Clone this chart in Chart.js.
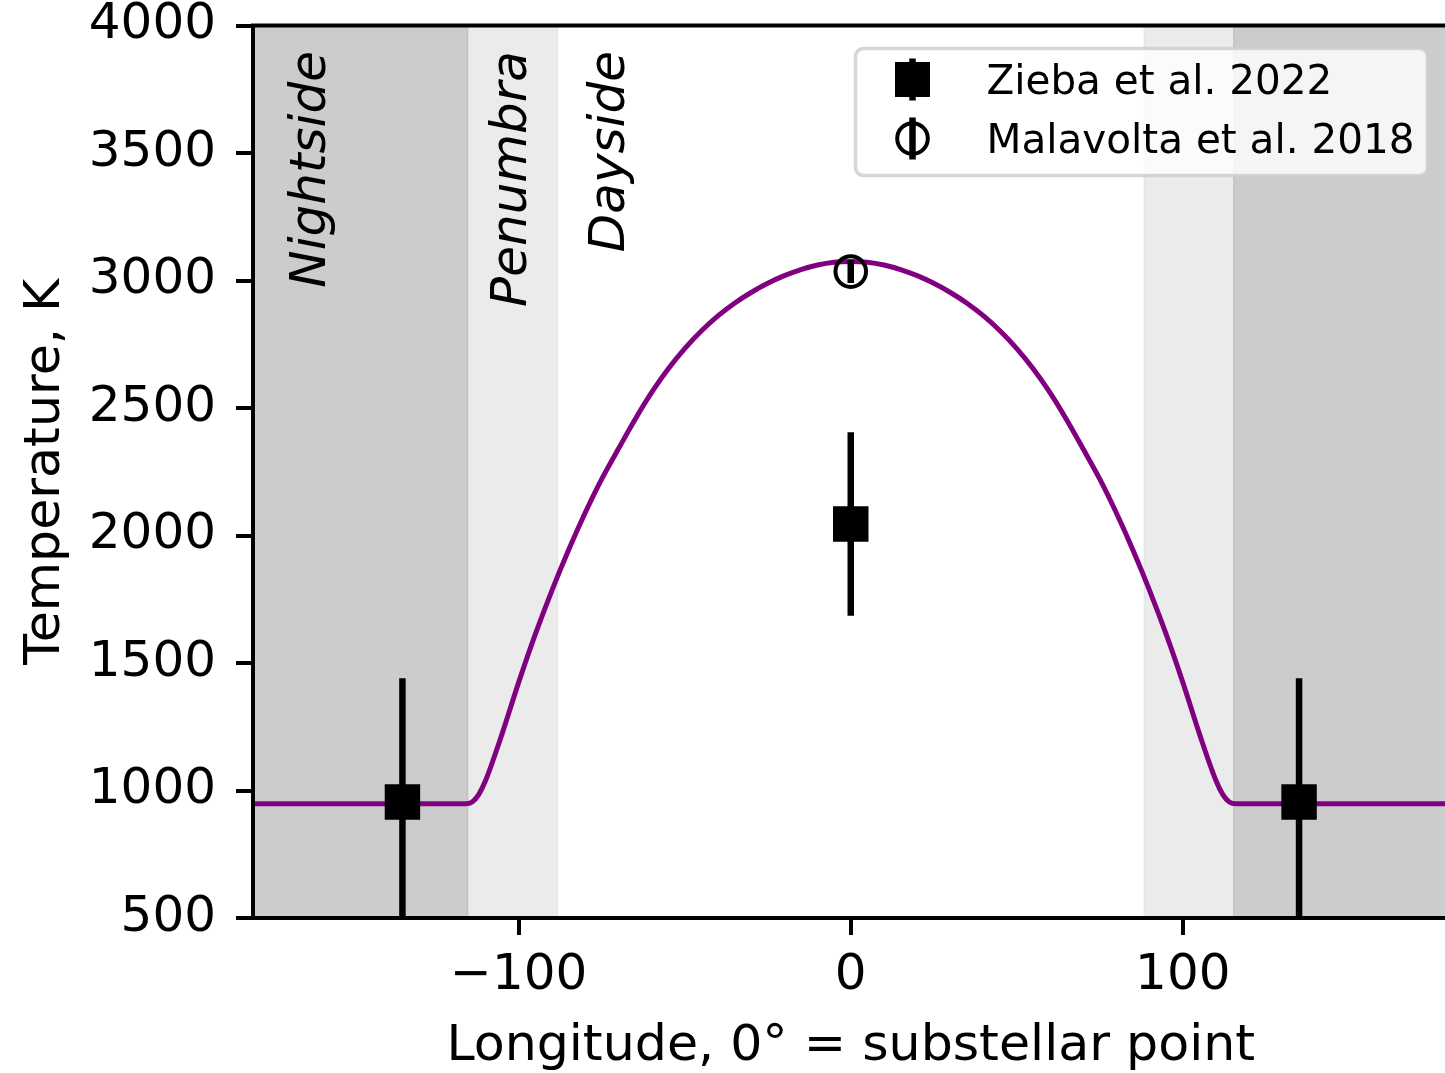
<!DOCTYPE html>
<html>
<head>
<meta charset="utf-8">
<script src="https://cdn.jsdelivr.net/npm/chart.js@4.4.0/dist/chart.umd.min.js"></script>
<style>
  html, body { margin: 0; padding: 0; background: #fff; overflow: hidden; }
  #wrap { position: absolute; left: 0; top: 0; width: 1600px; height: 1073px; }
</style>
</head>
<body>
<div id="wrap"><canvas id="chart" width="1474" height="1073"></canvas></div>
<script>
// model curve
const lon = [-180, -116, -114, -112, -110, -105, -100, -95, -90, -85, -80, -75, -70,
  -65, -60, -55, -50, -45, -40, -35, -30, -25, -20, -15, -10, -5, 0,
  5, 10, 15, 20, 25, 30, 35, 40, 45, 50, 55, 60, 65,
  70, 75, 80, 85, 90, 95, 100, 105, 110, 112, 114, 116, 180];
const temp = [948, 948, 955, 985, 1038, 1222, 1424, 1612, 1784, 1942, 2088, 2221, 2339,
  2454, 2560, 2653, 2733, 2802, 2861, 2911, 2953, 2989, 3019, 3043, 3061, 3072, 3075,
  3072, 3061, 3043, 3019, 2989, 2953, 2911, 2861, 2802, 2733, 2653, 2560, 2454,
  2339, 2221, 2088, 1942, 1784, 1612, 1424, 1222, 1038, 985, 955, 948, 948];

const ziebaLon = [-135, 0, 135];
const ziebaTemp = [955, 2045, 955];
const ziebaErr = [485, 360, 485];

const malavoltaLon = [0];
const malavoltaTemp = [3035];
const malavoltaErr = [45];

const xTicks = [-100, 0, 100];
const yTicks = [500, 1000, 1500, 2000, 2500, 3000, 3500, 4000];

const spanStart = [-180, -115.4, 88.4, 115.4];
const spanEnd = [-115.4, -88.4, 115.4, 180];
const spanColor = ['#cccccc', '#ebebeb', '#ebebeb', '#cccccc'];

const regionNames = ['Nightside', 'Penumbra', 'Dayside'];
const regionLon = [-158.3, -97.9, -68.2];
const regionTop = 3900;

const legendNames = ['Zieba et al. 2022', 'Malavolta et al. 2018'];

Chart.defaults.font.family = '"DejaVu Sans", sans-serif';
Chart.defaults.color = '#000';

function errorBars(xs, ys, errs) {
  return xs.map((x, i) => ({
    data: [{ x: x, y: ys[i] - errs[i] }, { x: x, y: ys[i] + errs[i] }],
    showLine: true,
    borderColor: '#000',
    borderWidth: 6.5,
    pointRadius: 0,
    clip: 0,
    order: 3
  }));
}

const spans = {
  id: 'spans',
  beforeDatasetsDraw(chart) {
    const { ctx, chartArea: a, scales: { x } } = chart;
    ctx.save();
    ctx.beginPath();
    ctx.rect(a.left, a.top, a.right - a.left, a.bottom - a.top);
    ctx.clip();
    spanStart.forEach((s, i) => {
      const x0 = x.getPixelForValue(s);
      const x1 = x.getPixelForValue(spanEnd[i]);
      ctx.fillStyle = spanColor[i];
      ctx.fillRect(x0, a.top, x1 - x0, a.bottom - a.top);
    });
    // faint edges where the shaded bands meet
    ctx.lineWidth = 1.5;
    [[-115.4, '#c2c2c2'], [115.4, '#c2c2c2'], [-88.4, '#e6e6e6'], [88.4, '#e6e6e6']].forEach(([v, c]) => {
      const px = x.getPixelForValue(v);
      ctx.strokeStyle = c;
      ctx.beginPath();
      ctx.moveTo(px, a.top);
      ctx.lineTo(px, a.bottom);
      ctx.stroke();
    });
    ctx.restore();
  }
};

const overlay = {
  id: 'overlay',
  afterDatasetsDraw(chart) {
    const { ctx, chartArea: a, scales: { x, y } } = chart;
    ctx.save();
    // spines (the right one falls just off the picture)
    ctx.strokeStyle = '#000';
    ctx.lineWidth = 4;
    ctx.strokeRect(a.left, a.top, a.right - a.left, a.bottom - a.top);

    // region labels
    ctx.fillStyle = '#000';
    ctx.font = 'italic 50px "DejaVu Sans"';
    ctx.textAlign = 'right';
    ctx.textBaseline = 'alphabetic';
    regionNames.forEach((name, i) => {
      ctx.save();
      ctx.translate(x.getPixelForValue(regionLon[i]), y.getPixelForValue(regionTop));
      ctx.rotate(-Math.PI / 2);
      ctx.fillText(name, 0, 0);
      ctx.restore();
    });

    // legend
    const bx = a.right - 593, by = a.top + 23, bw = 572, bh = 127;
    ctx.beginPath();
    ctx.roundRect(bx, by, bw, bh, 8);
    ctx.fillStyle = 'rgba(255,255,255,0.8)';
    ctx.fill();
    ctx.lineWidth = 3.5;
    ctx.strokeStyle = 'rgba(204,204,204,0.8)';
    ctx.stroke();

    const mx = bx + 57;
    const rows = [by + 31, by + 90];
    ctx.strokeStyle = '#000';
    ctx.fillStyle = '#000';
    ctx.lineWidth = 6.5;
    rows.forEach((ry) => {
      ctx.beginPath();
      ctx.moveTo(mx, ry - 21);
      ctx.lineTo(mx, ry + 21);
      ctx.stroke();
    });
    ctx.fillRect(mx - 17.5, rows[0] - 17.5, 35, 35);
    ctx.lineWidth = 4;
    ctx.beginPath();
    ctx.arc(mx, rows[1], 15.3, 0, Math.PI * 2);
    ctx.stroke();

    ctx.font = '40.5px "DejaVu Sans"';
    ctx.textAlign = 'left';
    ctx.textBaseline = 'alphabetic';
    legendNames.forEach((name, i) => {
      ctx.fillText(name, bx + 131, rows[i] + 14.5);
    });
    ctx.restore();
  }
};

new Chart(document.getElementById('chart'), {
  type: 'scatter',
  data: {
    datasets: [
      {
        data: lon.map((v, i) => ({ x: v, y: temp[i] })),
        showLine: true,
        borderColor: '#800080',
        borderWidth: 5,
        pointRadius: 0,
        cubicInterpolationMode: 'monotone',
        order: 5
      },
      ...errorBars(ziebaLon, ziebaTemp, ziebaErr),
      ...errorBars(malavoltaLon, malavoltaTemp, malavoltaErr),
      {
        data: ziebaLon.map((v, i) => ({ x: v, y: ziebaTemp[i] })),
        pointStyle: 'rect',
        pointRadius: 24,
        backgroundColor: '#000',
        borderColor: '#000',
        borderWidth: 1.5,
        order: 1
      },
      {
        data: malavoltaLon.map((v, i) => ({ x: v, y: malavoltaTemp[i] })),
        pointStyle: 'circle',
        pointRadius: 15.3,
        backgroundColor: 'rgba(0,0,0,0)',
        borderColor: '#000',
        borderWidth: 4,
        order: 1
      }
    ]
  },
  options: {
    responsive: false,
    animation: false,
    events: [],
    devicePixelRatio: 1,
    layout: { padding: { top: 25, right: 0, left: 0, bottom: 0 } },
    plugins: { legend: { display: false }, tooltip: { enabled: false } },
    scales: {
      x: {
        type: 'linear',
        min: -180,
        max: 180,
        afterBuildTicks: (s) => { s.ticks = xTicks.map((v) => ({ value: v })); },
        afterFit: (s) => { s.height = 155; s.paddingLeft = 0; s.paddingRight = 0; },
        grid: { drawOnChartArea: false, drawTicks: true, tickLength: 17, lineWidth: 4, color: '#000' },
        border: { display: false },
        ticks: {
          padding: 11,
          font: { size: 50 },
          maxRotation: 0,
          callback: (v) => String(v).replace('-', '\u2212')
        },
        title: {
          display: true,
          text: 'Longitude, 0° = substellar point',
          font: { size: 50.6 },
          padding: { top: 0, bottom: -4 }
        }
      },
      y: {
        type: 'linear',
        min: 500,
        max: 4000,
        afterBuildTicks: (s) => { s.ticks = yTicks.map((v) => ({ value: v })); },
        afterFit: (s) => { s.width = 253; s.paddingTop = 0; s.paddingBottom = 0; },
        grid: { drawOnChartArea: false, drawTicks: true, tickLength: 17, lineWidth: 4, color: '#000' },
        border: { display: false },
        ticks: {
          padding: 20,
          font: { size: 50 },
          callback: (v) => String(v)
        },
        title: {
          display: true,
          text: 'Temperature, K',
          font: { size: 50.6 },
          padding: { top: 15, bottom: 0 }
        }
      }
    }
  },
  plugins: [spans, overlay]
});
</script>
</body>
</html>
